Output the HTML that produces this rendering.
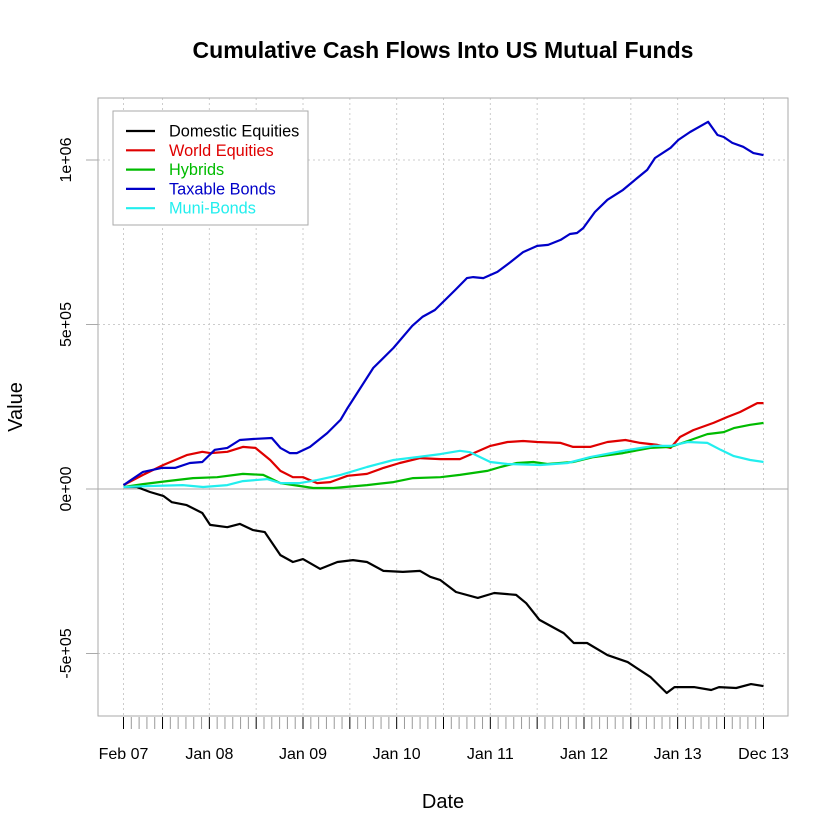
<!DOCTYPE html>
<html><head><meta charset="utf-8"><style>
html,body{margin:0;padding:0;background:#fff;}
svg{display:block;font-family:"Liberation Sans",Arial,sans-serif;}
</style></head><body>
<svg id="chart" width="839" height="839" viewBox="0 0 839 839" xmlns="http://www.w3.org/2000/svg">
<rect x="0" y="0" width="839" height="839" fill="#fff"/>
<text x="443" y="58" text-anchor="middle" font-size="23" font-weight="bold">Cumulative Cash Flows Into US Mutual Funds</text>
<g id="grid"></g>
<g id="axes"></g>
<g id="series"></g>
<rect x="98" y="98" width="690" height="618" fill="none" stroke="#aaa" stroke-width="1"/>
<text x="443" y="808" text-anchor="middle" font-size="20">Date</text>
<text transform="translate(22,407) rotate(-90)" text-anchor="middle" font-size="20">Value</text>
<g id="legend"></g>
</svg>
<script>
// months since Feb 2007, values in thousands
const domMonths=[0,1.7,3.4,5.1,6.2,8.1,10.1,11.1,13.3,14.9,16.6,18.1,20.1,21.7,23,25.2,27.4,29.4,31.2,33.3,35.8,38,39.3,40.6,42.6,45.4,47.5,50.3,51.6,53.3,56.4,57.7,59.4,62,64.6,67.5,69.6,70.6,73.1,75.3,76.3,78.5,80.4,82];
const domValues=[6,6,-9,-21,-40,-49,-73,-109,-116,-106,-125,-131,-201,-222,-213,-243,-222,-216,-222,-249,-252,-249,-267,-277,-313,-331,-316,-322,-347,-398,-438,-468,-468,-505,-526,-571,-620,-602,-602,-611,-602,-605,-593,-599];
const worldMonths=[0,2.5,5.1,8.1,10.1,11.1,13.3,15.3,16.9,18.8,20.1,21.7,23,24.8,26.5,28.7,31.2,33.3,35.4,38,40.6,43.1,47,49.2,51.2,53,56,57.6,59.8,62,64.3,66.2,68.4,70.1,71.3,73,75.6,77.4,79,81.2,82];
const worldValues=[12,43,73,103,113,109,113,128,125,88,55,36,36,18,21,40,46,64,79,94,91,91,131,143,146,143,140,128,128,143,149,140,134,125,158,179,201,219,234,261,261];
const hybMonths=[0,2.5,5.6,8.9,12,15.3,17.9,20.1,22.6,24.3,26.9,31.2,34.6,37.1,40.6,43.1,46.6,48.3,50.4,52.5,54.3,57.6,60.2,64,67.5,70.1,72.3,74.8,76.9,78.2,80.3,82];
const hybValues=[6,15,24,33,36,46,43,18,9,3,3,12,21,33,36,43,55,67,79,82,76,82,97,109,125,128,146,167,173,185,195,201];
const taxMonths=[0,2.5,4.9,6.6,8.5,10.1,11.7,13.3,14.9,16.6,19,20.1,21.3,22.2,23.9,26.1,27.8,28.7,32,34.6,37,38.3,39.9,42.5,44,44.8,46.1,47.9,49.6,51.2,53,54.4,56,57.2,58.1,58.9,60.4,62,64,65.8,67.1,68.1,70.1,71.1,72.6,74.9,76.1,76.9,78,79.4,80.7,82];
const taxValues=[12,52,64,64,79,82,119,125,149,152,155,125,109,109,128,170,210,246,368,429,496,523,544,605,641,644,641,660,690,720,739,742,757,775,778,793,842,879,909,945,970,1006,1037,1061,1085,1116,1076,1070,1052,1040,1021,1015];
const muniMonths=[0,3.4,7.6,10.2,13.3,15.3,18.4,20.1,22.6,24.8,27.8,31.2,34.6,37.6,40.6,43.1,44.4,47,49.2,53.4,56.9,59.8,64,67.9,70.1,72.3,74.8,76.5,78.2,80.3,82];
const muniValues=[6,9,12,6,12,24,30,18,18,27,43,67,88,97,106,116,112,82,76,73,79,97,116,131,131,143,140,119,100,88,82];
const seriesNames=["Domestic Equities","World Equities","Hybrids","Taxable Bonds","Muni-Bonds"];
const yTicks=[-500,0,500,1000];
const yTickLabels=["-5e+05","0e+00","5e+05","1e+06"];
const xLabelMonths=[0,11,23,35,47,59,71,82];
const xLabels=["Feb 07","Jan 08","Jan 09","Jan 10","Jan 11","Jan 12","Jan 13","Dec 13"];
const majorMonths=[0,5,11,17,23,29,35,41,47,53,59,65,71,77,82];
const totalMonths=82;

const NS="http://www.w3.org/2000/svg";
const X=m=>123.5+m*(763.5-123.5)/82;
const Y=v=>489-v*(489-160)/1000;
function mk(tag,attrs,parent){const e=document.createElementNS(NS,tag);for(const k in attrs)e.setAttribute(k,attrs[k]);parent.appendChild(e);return e;}
const grid=document.getElementById('grid'),axes=document.getElementById('axes'),ser=document.getElementById('series'),leg=document.getElementById('legend');

majorMonths.forEach(m=>{const l=mk('line',{x1:X(m),x2:X(m),y1:98,y2:716,stroke:'#ccc','stroke-dasharray':'2,3'},grid);

});
yTicks.forEach((v,i)=>{
 const g=mk('line',{x1:98,x2:788,y1:Y(v),y2:Y(v),stroke:v===0?'#aaa':'#ccc','stroke-dasharray':v===0?'none':'2,3'},grid);
 
 
 const t=mk('line',{x1:86,x2:98,y1:Y(v),y2:Y(v),stroke:'#aaa'},axes);
 
 
 const tx=mk('text',{transform:`translate(71,${Y(v)}) rotate(-90)`,'text-anchor':'middle','font-size':'16'},axes);
 tx.textContent=yTickLabels[i];
 
 
});
for(let m=0;m<=totalMonths;m++){
 const major=majorMonths.includes(m);
 const t=mk('line',{x1:X(m),x2:X(m),y1:717,y2:729,stroke:major?'#000':'#999','stroke-width':1},axes);
 
 
}
xLabelMonths.forEach((m,i)=>{const t=mk('text',{x:X(m),y:759,'text-anchor':'middle','font-size':'16'},axes);
 t.textContent=xLabels[i];
 
 });

const colors=["#000000","#DF0000","#00BB00","#0000C8","#22EEEE"];
const data=[[domMonths,domValues],[worldMonths,worldValues],[hybMonths,hybValues],[taxMonths,taxValues],[muniMonths,muniValues]];
const keys=["domestic-equities","world-equities","hybrids","taxable-bonds","muni-bonds"];
data.forEach((d,i)=>{
 const pts=d[0].map((m,j)=>X(m).toFixed(1)+','+Y(d[1][j]).toFixed(1)).join(' ');
 const p=mk('polyline',{points:pts,fill:'none',stroke:colors[i],'stroke-width':2.2,'stroke-linejoin':'round'},ser);
 
 
});
const lb=mk('rect',{x:113,y:111,width:195,height:114,fill:'#fff',stroke:'#aaa'},leg);


seriesNames.forEach((n,i)=>{
 const y=131+i*19.3;
 const l=mk('line',{x1:126,x2:155,y1:y,y2:y,stroke:colors[i],'stroke-width':2.2},leg);
 
 
 const t=mk('text',{x:169,y:y+5.5,'font-size':'16.3',fill:i===0?'#000':colors[i]},leg);
 t.textContent=n;
 
 
});
</script>
</body></html>
